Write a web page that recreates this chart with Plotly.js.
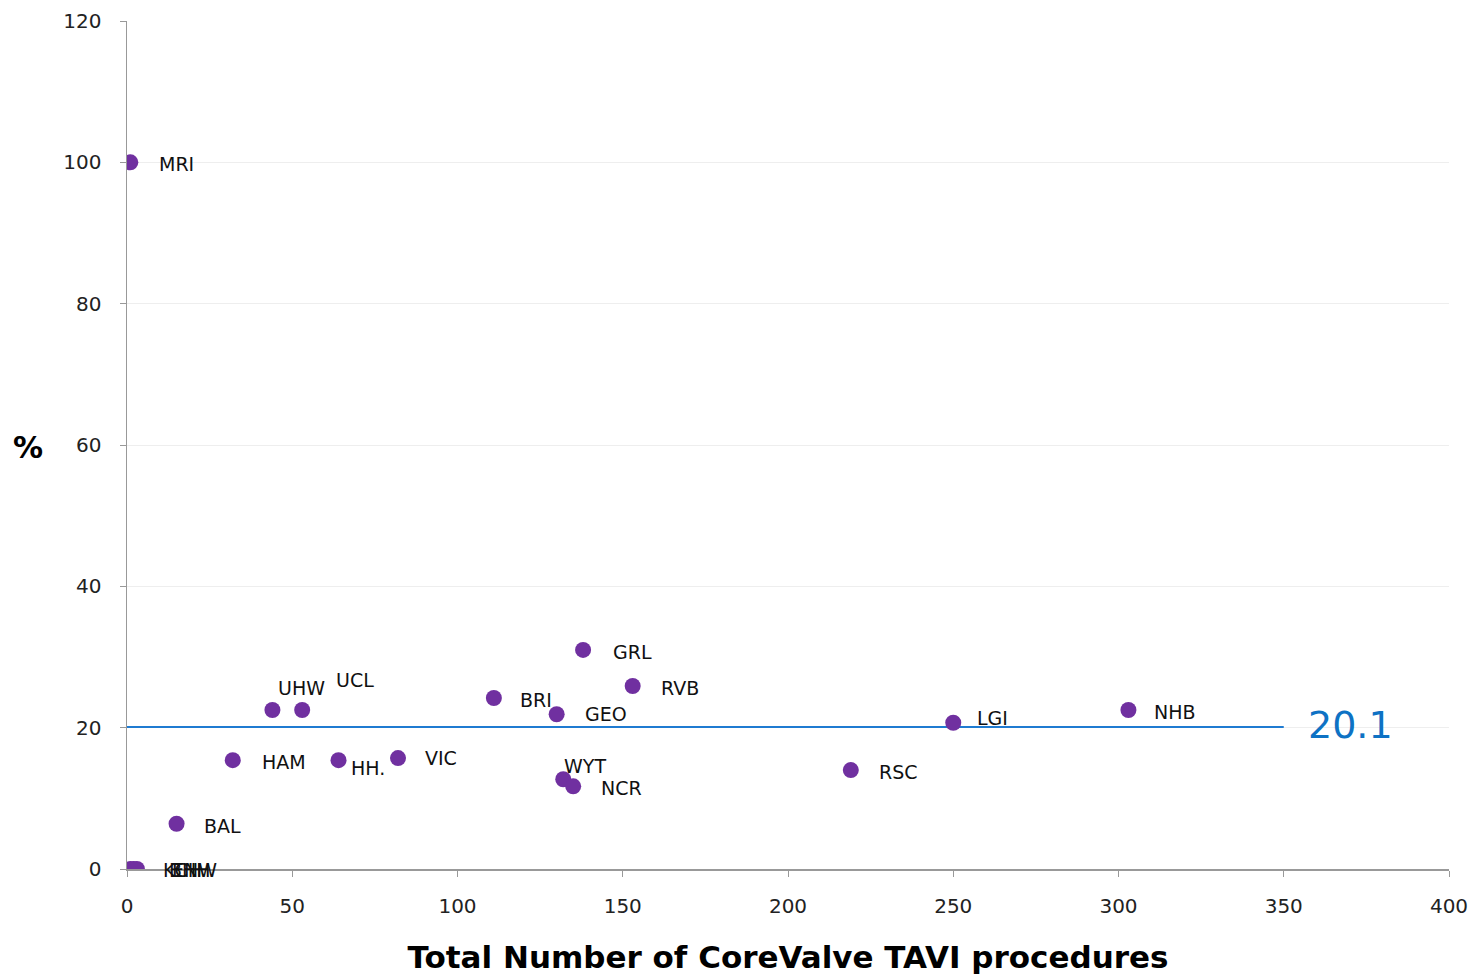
<!DOCTYPE html>
<html>
<head>
<meta charset="utf-8">
<script src="https://cdn.plot.ly/plotly-3.0.1.min.js"></script>
<style>html,body{margin:0;padding:0;background:#fff;}#chart{width:1475px;height:977px;}</style>
</head>
<body>
<div id="chart"></div>
<script>
// Data
const centres = ["MRI","UHW","UCL","HAM","HH.","VIC","BAL","BRI","GEO","GRL","RVB","WYT","NCR","RSC","LGI","NHB","KCH","BHH","ENW"];
const procedures = [1, 44, 53, 32, 64, 82, 15, 111, 130, 138, 153, 132, 135, 219, 250, 303, 1, 2, 3];
const percent = [100, 22.5, 22.5, 15.4, 15.4, 15.7, 6.4, 24.2, 21.9, 31.0, 25.9, 12.7, 11.7, 14.0, 20.7, 22.5, 0, 0, 0];
const refValue = 20.1;
const refRange = [0, 350];
const xTicks = [0, 50, 100, 150, 200, 250, 300, 350, 400];
const yTicks = [0, 20, 40, 60, 80, 100, 120];

// label offsets (pixels) per centre
const labelShift = {
  "MRI":[27,-2],"UHW":[4,22],"UCL":[32,30],"HAM":[27,-2],"HH.":[10,-8],"VIC":[25,0],
  "BAL":[25,-2],"BRI":[24,-2],"GEO":[26,0],"GRL":[28,-2],"RVB":[26,-2],"WYT":[-1,13],
  "NCR":[26,-2],"RSC":[26,-2],"LGI":[22,5],"NHB":[24,-2],"KCH":[31,-1],"BHH":[33,-1],"ENW":[33,-1]
};

const labelFont = {family:"DejaVu Sans, Verdana, sans-serif", size:19, color:"#111"};
const annotations = centres.map((c,i)=>({
  x: procedures[i], y: percent[i], text: c, showarrow:false,
  xanchor:"left", yanchor:"middle",
  xshift: labelShift[c][0], yshift: labelShift[c][1],
  font: labelFont
}));
annotations.push({
  x: refRange[1], y: refValue, text: String(refValue), showarrow:false,
  xanchor:"left", yanchor:"middle", xshift:22, yshift:2,
  font:{family:"DejaVu Sans, Verdana, sans-serif", size:38, color:"#0e72c4"}
});
annotations.push({
  xref:"paper", yref:"paper", x:-0.075, y:0.497, text:"<b>%</b>", showarrow:false,
  xanchor:"center", yanchor:"middle",
  font:{family:"DejaVu Sans, Verdana, sans-serif", size:30, color:"#000"}
});

const traces = [
  {
    x: refRange, y: [refValue, refValue], mode:"lines", type:"scatter",
    line:{color:"#1f7bd1", width:2}, hoverinfo:"skip", showlegend:false
  },
  {
    x: procedures, y: percent, mode:"markers", type:"scatter",
    marker:{color:"#7030a0", size:16}, text: centres, showlegend:false
  }
];

const tickFont = {family:"DejaVu Sans, Verdana, sans-serif", size:20, color:"#222"};
const layout = {
  width:1475, height:977,
  margin:{l:127, r:26, t:21, b:108},
  paper_bgcolor:"#fff", plot_bgcolor:"#fff",
  showlegend:false,
  xaxis:{
    range:[0,400], tickvals:xTicks, ticktext:xTicks.map(String),
    showgrid:false, zeroline:false,
    showline:true, linecolor:"#999", linewidth:1.5,
    ticks:"outside", ticklen:6, tickcolor:"#999",
    tickfont:tickFont, ticklabelstandoff:12,
    title:{text:"<b>Total Number of CoreValve TAVI procedures</b>",
      font:{family:"DejaVu Sans, Tahoma, sans-serif", size:31, color:"#000"}, standoff:30}
  },
  yaxis:{
    range:[0,120], tickvals:yTicks, ticktext:yTicks.map(String),
    showgrid:true, gridcolor:"#eeeeee", gridwidth:1, zeroline:false,
    showline:true, linecolor:"#999", linewidth:1.5,
    ticks:"outside", ticklen:6, tickcolor:"#999",
    tickfont:tickFont, ticklabelstandoff:14
  },
  annotations: annotations
};

Plotly.newPlot("chart", traces, layout, {displayModeBar:false, staticPlot:true});
</script>
</body>
</html>
